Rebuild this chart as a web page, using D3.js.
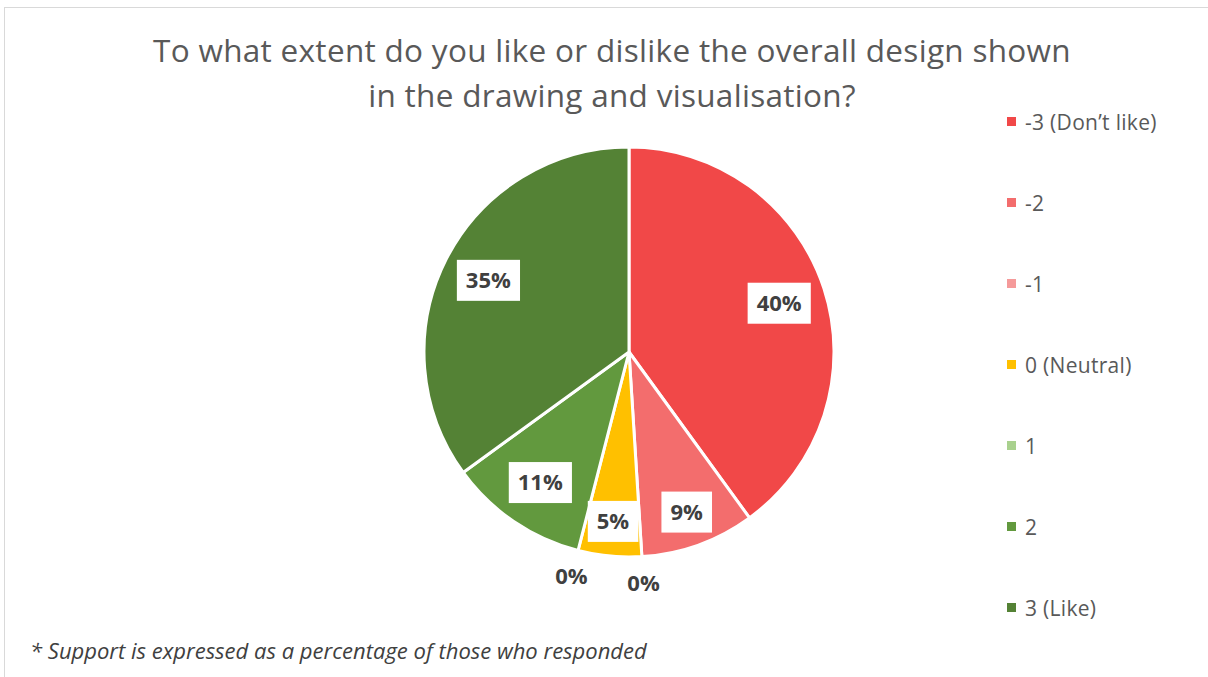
<!DOCTYPE html>
<html>
<head>
<meta charset="utf-8">
<script src="https://cdn.jsdelivr.net/npm/d3@7"></script>
<style>
  html, body { margin: 0; padding: 0; background: #fff; }
  svg { display: block; }
</style>
</head>
<body>
<svg id="chart" width="1208" height="677"></svg>
<script>
// Survey responses, share of respondents (%)
const categories = ["-3 (Don\u2019t like)", "-2", "-1", "0 (Neutral)", "1", "2", "3 (Like)"];
const shares = [40, 9, 0, 5, 0, 11, 35];
const colors = ["#F14848", "#F36D6D", "#F59A9A", "#FFC000", "#A9D18E", "#62993E", "#548235"];
const titleLines = ["To what extent do you like or dislike the overall design shown",
                    "in the drawing and visualisation?"];
const footnote = "* Support is expressed as a percentage of those who responded";

const W = 1208, H = 677;
const svg = d3.select("#chart");
const font = "'Open Sans', Lato, sans-serif";

// chart frame
svg.append("rect")
  .attr("x", 4.5).attr("y", 7.5)
  .attr("width", W + 10).attr("height", H + 10)
  .attr("fill", "#fff").attr("stroke", "#D9D9D9").attr("stroke-width", 1);

// title
svg.append("g").selectAll("text")
  .data(titleLines)
  .join("text")
  .attr("x", 612)
  .attr("y", (d, i) => 62 + i * 45)
  .attr("text-anchor", "middle")
  .attr("font-family", font)
  .attr("font-weight", 400)
  .attr("font-size", 31.5)
  .attr("letter-spacing", 0.3)
  .attr("fill", "#595959")
  .text(d => d);

// pie
const cx = 629, cy = 352, R = 205;
const data = categories.map((c, i) => ({ cat: c, value: shares[i], color: colors[i] }));
const pie = d3.pie().value(d => d.value).sort(null);
const arcs = pie(data);
const arc = d3.arc().innerRadius(0).outerRadius(R);

const g = svg.append("g").attr("transform", `translate(${cx},${cy})`);
g.selectAll("path")
  .data(arcs.filter(d => d.data.value > 0))
  .join("path")
  .attr("d", arc)
  .attr("fill", d => d.data.color)
  .attr("stroke", "#fff")
  .attr("stroke-width", 3)
  .attr("stroke-linejoin", "round");

// data labels: boxed inside the slice, plain outside for empty slices
const labelR = d => {
  if (d.data.value === 0) return R * 1.13;
  if (d.data.value < 10) return R * 0.83;
  return R * 0.77;
};
const labelPos = d => {
  const a = (d.startAngle + d.endAngle) / 2;
  const r = labelR(d);
  return [Math.sin(a) * r, -Math.cos(a) * r];
};

const labels = g.selectAll("g.lbl")
  .data(arcs)
  .join("g")
  .attr("class", "lbl")
  .attr("transform", d => {
    const p = labelPos(d);
    return `translate(${p[0]},${p[1]})`;
  });

labels.append("text")
  .attr("text-anchor", "middle")
  .attr("dy", "0.36em")
  .attr("font-family", font)
  .attr("font-weight", 700)
  .attr("font-size", 22)
  .attr("fill", "#404040")
  .text(d => d3.format(".0f")(d.data.value) + "%");

labels.each(function(d) {
  if (d.data.value === 0) return;
  const sel = d3.select(this);
  const bb = sel.select("text").node().getBBox();
  sel.insert("rect", "text")
    .attr("x", bb.x - 9).attr("y", -20.5)
    .attr("width", bb.width + 18).attr("height", 41)
    .attr("fill", "#fff");
});

// legend
const legend = svg.append("g").selectAll("g")
  .data(data)
  .join("g")
  .attr("transform", (d, i) => `translate(1007, ${122 + i * 81})`);
legend.append("rect")
  .attr("x", 0).attr("y", -5)
  .attr("width", 9).attr("height", 9)
  .attr("fill", d => d.color);
legend.append("text")
  .attr("x", 18).attr("dy", "0.36em")
  .attr("font-family", font)
  .attr("font-size", 21)
  .attr("letter-spacing", 0.3)
  .attr("fill", "#595959")
  .text(d => d.cat);

// footnote
svg.append("text")
  .attr("x", 30).attr("y", 659)
  .attr("font-family", font)
  .attr("font-style", "italic")
  .attr("font-size", 22)
  .attr("fill", "#404040")
  .text(footnote);
</script>
</body>
</html>
